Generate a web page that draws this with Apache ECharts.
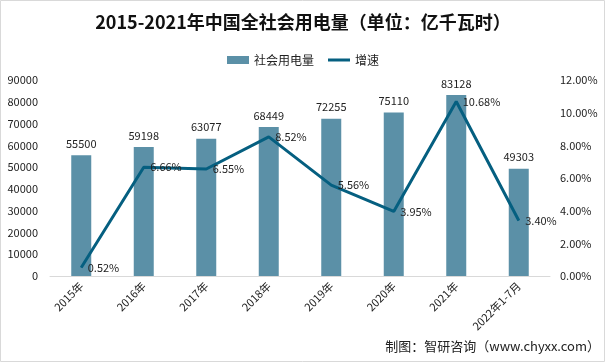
<!DOCTYPE html>
<html><head><meta charset="utf-8">
<script src="https://cdn.jsdelivr.net/npm/echarts@6/dist/echarts.min.js"></script>
<style>html,body{margin:0;padding:0;background:#fff}#c{width:606px;height:364px}</style>
</head><body><div id="c"></div>
<script>
var categories = ['2015年','2016年','2017年','2018年','2019年','2020年','2021年','2022年1-7月'];
var consumption = [55500,59198,63077,68449,72255,75110,83128,49303];
var growth = [0.52,6.66,6.55,8.52,5.56,3.95,10.68,3.40];
var leftTicks = {min:0,max:90000,interval:10000};
var rightTicks = {min:0,max:12,interval:2};

var chart = echarts.init(document.getElementById('c'), null, {renderer:'canvas'});
var font = '"Noto Sans CJK SC","Noto Sans",sans-serif';
chart.setOption({
  backgroundColor:'#fff',
  animation:false,
  textStyle:{fontFamily:font},
  title:{text:'2015-2021年中国全社会用电量（单位：亿千瓦时）',left:'center',top:8,
    textStyle:{fontSize:18,fontWeight:'bold',color:'#111',fontFamily:font}},
  legend:{top:49,left:'center',itemWidth:22,itemHeight:8,itemGap:14,
    textStyle:{fontSize:12,color:'#222',fontFamily:font},
    data:[{name:'社会用电量',icon:'rect'},{name:'增速',icon:'path://M0,0H22V3H0Z'}]},
  graphic:[
    {type:'rect',shape:{x:0.5,y:0.5,width:604,height:361},style:{fill:'none',stroke:'#d9d9d9',lineWidth:1}},
    {type:'text',right:6,top:340,style:{text:'制图：智研咨询（www.chyxx.com）',fontSize:13,fill:'#222',fontFamily:font}}
  ],
  grid:{left:50,right:56,top:80,bottom:88},
  xAxis:{type:'category',data:categories,
    axisLine:{lineStyle:{color:'#d9d9d9'}},axisTick:{show:false},
    axisLabel:{rotate:45,fontSize:11,color:'#222',margin:8,interval:0}},
  yAxis:[
    {type:'value',min:leftTicks.min,max:leftTicks.max,interval:leftTicks.interval,
     splitLine:{show:false},axisLine:{show:false},axisTick:{show:false},
     axisLabel:{fontSize:11,color:'#222',margin:12,formatter:function(v){return String(v);}}},
    {type:'value',min:rightTicks.min,max:rightTicks.max,interval:rightTicks.interval,
     splitLine:{show:false},axisLine:{show:false},axisTick:{show:false},
     axisLabel:{fontSize:11,color:'#222',margin:10,formatter:function(v){return v.toFixed(2)+'%';}}}
  ],
  series:[
    {name:'社会用电量',type:'bar',data:consumption,barWidth:20,
     itemStyle:{color:'#5b90a7'},
     label:{show:true,position:'top',fontSize:11,color:'#222',distance:6}},
    {name:'增速',type:'line',yAxisIndex:1,data:growth,symbol:'circle',symbolSize:1,showSymbol:true,
     lineStyle:{color:'#055f80',width:3},itemStyle:{color:'#055f80'},
     label:{show:true,position:'right',fontSize:11,color:'#222',distance:6,
       formatter:function(p){return p.value.toFixed(2)+'%';}}}
  ]
});
</script></body></html>
